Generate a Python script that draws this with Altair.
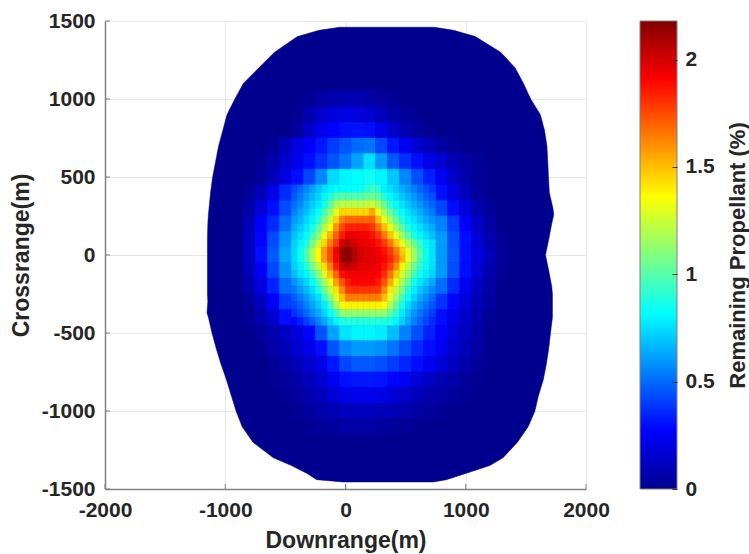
import altair as alt
import pandas as pd

# ---- data ----
# coarse 100 m cells (None = covered by the fine 50 m cells below)
x_centers = [-800, -700, -600, -500, -400, -300, -200, -100, 0, 100, 200,
             300, 400, 500, 600, 700, 800, 900, 1000, 1100, 1200, 1300]
y_centers = [1000, 900, 800, 700, 600, 500, 400, 300, 200, 100, 0,
             -100, -200, -300, -400, -500, -600, -700, -800, -900, -1000, -1100]
N = None
row_1000 = [0, 0, 0, 0, 0, 0.02, 0.05, 0.07, 0.08, 0.08, 0.06, 0.04, 0.02, 0, 0, 0, 0, 0, 0, 0, 0, 0]
row_900 = [0, 0, 0, 0, 0.02, 0.08, 0.14, 0.18, 0.2, 0.19, 0.16, 0.11, 0.06, 0.03, 0.01, 0, 0, 0, 0, 0, 0, 0]
row_800 = [0, 0, 0, 0, 0.04, 0.14, 0.22, 0.27, 0.3, 0.31, 0.3, 0.22, 0.14, 0.08, 0.04, 0.01, 0, 0, 0, 0, 0, 0]
row_700 = [0, 0, 0.02, 0.1, 0.2, 0.26, 0.32, 0.4, 0.45, 0.5, 0.52, 0.42, 0.32, 0.24, 0.16, 0.1, 0.05, 0.02, 0, 0, 0, 0]
row_600 = [0, 0.02, 0.06, 0.15, 0.22, 0.3, 0.38, 0.45, 0.52, 0.62, 0.75, 0.6, 0.46, 0.37, 0.3, 0.22, 0.16, 0.1, 0.05, 0.02, 0, 0]
row_500 = [0, 0.03, 0.1, 0.2, 0.3, 0.42, 0.56, 0.74, 0.8, 0.82, 0.85, 0.8, 0.7, 0.56, 0.44, 0.34, 0.24, 0.14, 0.07, 0.03, 0, 0]
row_400 = [0.03, 0.1, 0.22, 0.36, N, N, N, N, N, N, N, N, N, N, N, N, 0.3, 0.2, 0.11, 0.04, 0, 0]
row_300 = [0.06, 0.18, 0.3, 0.43, N, N, N, N, N, N, N, N, N, N, N, N, 0.42, 0.3, 0.18, 0.08, 0.03, 0]
row_200 = [0.1, 0.27, 0.36, 0.5, N, N, N, N, N, N, N, N, N, N, N, N, 0.55, 0.4, 0.26, 0.14, 0.05, 0]
row_100 = [0.12, 0.28, 0.43, 0.58, N, N, N, N, N, N, N, N, N, N, N, N, 0.6, 0.44, 0.3, 0.18, 0.08, 0.02]
row_0 = [0.12, 0.3, 0.46, 0.62, N, N, N, N, N, N, N, N, N, N, N, N, 0.6, 0.45, 0.3, 0.2, 0.1, 0.03]
row_m100 = [0.1, 0.26, 0.42, 0.58, N, N, N, N, N, N, N, N, N, N, N, N, 0.6, 0.44, 0.3, 0.18, 0.08, 0.02]
row_m200 = [0.07, 0.2, 0.34, 0.5, N, N, N, N, N, N, N, N, N, N, N, N, 0.5, 0.36, 0.24, 0.13, 0.05, 0]
row_m300 = [0.04, 0.12, 0.26, 0.4, N, N, N, N, N, N, N, N, N, N, N, N, 0.38, 0.28, 0.18, 0.1, 0.04, 0]
row_m400 = [0.02, 0.07, 0.16, 0.3, N, N, N, N, N, N, N, N, N, N, N, N, 0.3, 0.22, 0.14, 0.08, 0.02, 0]
row_m500 = [0, 0.03, 0.07, 0.12, 0.18, 0.28, 0.45, 0.62, 0.76, 0.8, 0.8, 0.78, 0.68, 0.55, 0.44, 0.34, 0.26, 0.18, 0.12, 0.06, 0, 0]
row_m600 = [0, 0.02, 0.05, 0.1, 0.16, 0.22, 0.3, 0.45, 0.56, 0.6, 0.6, 0.58, 0.52, 0.44, 0.36, 0.3, 0.24, 0.16, 0.1, 0.05, 0, 0]
row_m700 = [0, 0, 0.02, 0.05, 0.1, 0.15, 0.22, 0.32, 0.42, 0.46, 0.46, 0.44, 0.4, 0.35, 0.3, 0.24, 0.18, 0.12, 0.07, 0.03, 0, 0]
row_m800 = [0, 0, 0.01, 0.03, 0.06, 0.1, 0.16, 0.24, 0.3, 0.32, 0.32, 0.31, 0.28, 0.24, 0.18, 0.13, 0.09, 0.06, 0.03, 0.01, 0, 0]
row_m900 = [0, 0, 0, 0.02, 0.04, 0.07, 0.11, 0.17, 0.21, 0.23, 0.23, 0.21, 0.18, 0.14, 0.1, 0.07, 0.05, 0.03, 0.02, 0, 0, 0]
row_m1000 = [0, 0, 0, 0, 0.02, 0.04, 0.06, 0.09, 0.11, 0.12, 0.12, 0.11, 0.09, 0.07, 0.05, 0.03, 0.02, 0, 0, 0, 0, 0]
row_m1100 = [0, 0, 0, 0, 0, 0.02, 0.03, 0.04, 0.05, 0.05, 0.05, 0.04, 0.03, 0.02, 0, 0, 0, 0, 0, 0, 0, 0]

value_rows = [row_1000, row_900, row_800, row_700, row_600, row_500, row_400,
              row_300, row_200, row_100, row_0, row_m100, row_m200, row_m300,
              row_m400, row_m500, row_m600, row_m700, row_m800, row_m900,
              row_m1000, row_m1100]

# fine 50 m cells over the core
fine_x = [-425, -375, -325, -275, -225, -175, -125, -75, -25, 25, 75, 125,
          175, 225, 275, 325, 375, 425, 475, 525, 575, 625, 675, 725]
fine_y = [425, 375, 325, 275, 225, 175, 125, 75, 25, -25, -75, -125, -175,
          -225, -275, -325, -375, -425]
f_425 = [0.43, 0.49, 0.55, 0.62, 0.69, 0.75, 0.79, 0.82, 0.82, 0.82, 0.82, 0.83, 0.88, 0.95, 0.9, 0.79, 0.75, 0.71, 0.65, 0.6, 0.54, 0.49, 0.44, 0.39]
f_375 = [0.46, 0.53, 0.6, 0.66, 0.73, 0.8, 0.89, 0.97, 0.99, 0.99, 0.99, 0.99, 1.02, 1.05, 1.0, 0.89, 0.81, 0.76, 0.7, 0.65, 0.59, 0.54, 0.48, 0.44]
f_325 = [0.51, 0.57, 0.64, 0.71, 0.77, 0.85, 1.01, 1.17, 1.21, 1.21, 1.21, 1.21, 1.21, 1.25, 1.17, 1.03, 0.9, 0.81, 0.76, 0.7, 0.64, 0.59, 0.53, 0.48]
f_275 = [0.55, 0.62, 0.68, 0.75, 0.82, 0.95, 1.12, 1.3, 1.45, 1.45, 1.45, 1.45, 1.45, 1.55, 1.33, 1.17, 1.03, 0.9, 0.81, 0.75, 0.7, 0.64, 0.58, 0.53]
f_225 = [0.6, 0.66, 0.73, 0.8, 0.89, 1.06, 1.24, 1.45, 1.64, 1.69, 1.69, 1.69, 1.69, 1.7, 1.51, 1.32, 1.17, 1.02, 0.89, 0.8, 0.75, 0.69, 0.64, 0.58]
f_175 = [0.64, 0.71, 0.77, 0.85, 1.0, 1.18, 1.36, 1.59, 1.75, 1.84, 1.84, 1.84, 1.84, 1.79, 1.66, 1.5, 1.31, 1.16, 1.01, 0.88, 0.8, 0.75, 0.69, 0.64]
f_125 = [0.69, 0.75, 0.81, 0.94, 1.11, 1.31, 1.52, 1.7, 1.85, 1.95, 1.95, 1.92, 1.92, 1.87, 1.79, 1.65, 1.49, 1.31, 1.15, 1.0, 0.88, 0.8, 0.74, 0.68]
f_75 = [0.72, 0.79, 0.88, 1.06, 1.23, 1.44, 1.64, 1.79, 2.0, 2.05, 2.0, 1.95, 1.94, 1.92, 1.87, 1.78, 1.65, 1.48, 1.31, 1.17, 1.03, 0.92, 0.81, 0.75]
f_25 = [0.74, 0.83, 0.97, 1.17, 1.37, 1.58, 1.74, 1.92, 2.12, 2.16, 2.07, 2.0, 1.97, 1.96, 1.92, 1.87, 1.78, 1.64, 1.47, 1.3, 1.15, 0.98, 0.84, 0.76]
f_m25 = [0.74, 0.83, 0.97, 1.17, 1.35, 1.58, 1.74, 1.92, 2.12, 2.16, 2.07, 2.0, 1.97, 1.96, 1.95, 1.91, 1.83, 1.71, 1.53, 1.31, 1.15, 0.98, 0.84, 0.76]
f_m75 = [0.72, 0.79, 0.88, 1.06, 1.22, 1.43, 1.63, 1.85, 2.0, 2.05, 2.0, 1.96, 1.95, 1.95, 1.93, 1.87, 1.77, 1.6, 1.38, 1.21, 1.05, 0.91, 0.81, 0.75]
f_m125 = [0.68, 0.75, 0.8, 0.93, 1.1, 1.28, 1.5, 1.69, 1.88, 1.93, 1.93, 1.93, 1.93, 1.92, 1.9, 1.81, 1.66, 1.47, 1.27, 1.12, 0.97, 0.84, 0.78, 0.72]
f_m175 = [0.59, 0.66, 0.73, 0.82, 0.97, 1.16, 1.34, 1.57, 1.73, 1.85, 1.9, 1.9, 1.9, 1.9, 1.85, 1.73, 1.55, 1.33, 1.18, 1.02, 0.85, 0.77, 0.7, 0.63]
f_m225 = [0.53, 0.6, 0.67, 0.75, 0.86, 1.04, 1.22, 1.42, 1.62, 1.78, 1.8, 1.8, 1.8, 1.8, 1.78, 1.62, 1.41, 1.23, 1.09, 0.9, 0.79, 0.7, 0.63, 0.56]
f_m275 = [0.47, 0.53, 0.6, 0.68, 0.75, 0.9, 1.1, 1.29, 1.49, 1.64, 1.64, 1.64, 1.64, 1.64, 1.64, 1.5, 1.3, 1.14, 0.97, 0.82, 0.72, 0.64, 0.57, 0.5]
f_m325 = [0.42, 0.48, 0.55, 0.62, 0.7, 0.78, 0.94, 1.16, 1.33, 1.39, 1.39, 1.39, 1.39, 1.39, 1.39, 1.35, 1.2, 1.02, 0.86, 0.74, 0.65, 0.58, 0.51, 0.45]
f_m375 = [0.38, 0.43, 0.5, 0.57, 0.64, 0.72, 0.82, 0.95, 1.13, 1.13, 1.13, 1.13, 1.13, 1.13, 1.13, 1.13, 1.02, 0.92, 0.78, 0.68, 0.59, 0.52, 0.46, 0.4]
f_m425 = [0.28, 0.33, 0.4, 0.47, 0.55, 0.63, 0.72, 0.8, 0.88, 0.89, 0.89, 0.89, 0.89, 0.89, 0.89, 0.89, 0.86, 0.8, 0.72, 0.63, 0.55, 0.48, 0.42, 0.36]

fine_rows = [f_425, f_375, f_325, f_275, f_225, f_175, f_125, f_75, f_25,
             f_m25, f_m75, f_m125, f_m175, f_m225, f_m275, f_m325, f_m375, f_m425]

# outline of the covered region: crossrange and its downrange limits
edge_y = [1460, 1440, 1400, 1300, 1200, 1100, 1000, 900, 800, 700, 600, 500,
          400, 300, 260, 200, 100, 0, -100, -200, -250, -300, -370, -400,
          -500, -600, -700, -800, -900, -1000, -1100, -1200, -1300, -1350,
          -1400, -1440, -1455]
edge_left = [-50, -220, -400, -590, -720, -850, -920, -985, -1020, -1055,
             -1080, -1105, -1122, -1135, -1140, -1145, -1148, -1148, -1148,
             -1148, -1148, -1145, -1152, -1140, -1110, -1075, -1035, -990,
             -950, -910, -860, -770, -600, -450, -320, -240, -20]
edge_right = [740, 900, 1080, 1290, 1410, 1480, 1540, 1620, 1655, 1675,
              1682, 1688, 1695, 1725, 1732, 1715, 1690, 1663, 1690, 1715,
              1721, 1721, 1721, 1721, 1705, 1690, 1670, 1645, 1605, 1575,
              1520, 1430, 1310, 1200, 1000, 840, 730]

x_ticks = [-2000, -1000, 0, 1000, 2000]
y_ticks = [-1500, -1000, -500, 0, 500, 1000, 1500]
cbar_ticks = [0, 0.5, 1, 1.5, 2]
v_min = 0
v_max = 2.18

jet = ["#00008F", "#0000FF", "#0080FF", "#00FFFF", "#80FF80",
       "#FFFF00", "#FF8000", "#FF0000", "#800000"]


# ---- tables ----
def cell_table(xs, ys, rows, half):
    df = pd.DataFrame(
        [(x, y, v) for y, row in zip(ys, rows) for x, v in zip(xs, row)],
        columns=["x", "y", "v"],
    ).dropna()
    df = df[df["v"] > 0].copy()
    df["x0"] = df["x"] - half
    df["x1"] = df["x"] + half
    df["y0"] = df["y"] - half
    df["y1"] = df["y"] + half
    return df


coarse = cell_table(x_centers, y_centers, value_rows, 50)
fine = cell_table(fine_x, fine_y, fine_rows, 25)

edge = pd.DataFrame({"cy": edge_y, "xl": edge_left, "xr": edge_right})
xt = pd.DataFrame({"t": x_ticks})
yt = pd.DataFrame({"t": y_ticks})
cbar_df = pd.DataFrame({"lo": [v_min], "hi": [v_max]})

FONT = "Liberation Sans"
TXT = "#262626"
LABEL_SIZE = 21
TITLE_SIZE = 23

xscale = alt.Scale(domain=[-2000, 2000], nice=False)
yscale = alt.Scale(domain=[-1500, 1500], nice=False)
cscale = alt.Scale(domain=[v_min, v_max], range=jet, interpolate="rgb",
                   nice=False, clamp=True)
cbar_scale = alt.Scale(domain=[v_min, v_max], nice=False)

xaxis = alt.Axis(values=x_ticks, title="Downrange(m)", labelPadding=10,
                 titlePadding=9, labelExpr="'' + datum.value",
                 labelFlush=False, zindex=0)
yaxis = alt.Axis(values=y_ticks, title="Crossrange(m)", labelPadding=10,
                 titlePadding=8, labelExpr="'' + datum.value",
                 labelFlush=False, zindex=0)

region = alt.Chart(edge).mark_area(
    orient="horizontal", fill="#00008F", stroke="#00008F", strokeWidth=0.5
).encode(
    y=alt.Y("cy:Q", scale=yscale, axis=yaxis),
    x=alt.X("xl:Q", scale=xscale, axis=xaxis),
    x2="xr:Q",
)


def heat_layer(df):
    return alt.Chart(df).mark_rect(strokeWidth=0.6).encode(
        x=alt.X("x0:Q", scale=xscale),
        x2="x1:Q",
        y=alt.Y("y0:Q", scale=yscale),
        y2="y1:Q",
        color=alt.Color("v:Q", scale=cscale, legend=None),
        stroke=alt.Stroke("v:Q", scale=cscale, legend=None),
    )


xtick_marks = alt.Chart(xt).mark_rule(color="#808080", strokeWidth=1).encode(
    x=alt.X("t:Q", scale=xscale), y=alt.value(468), y2=alt.value(463)
)
ytick_marks = alt.Chart(yt).mark_rule(color="#808080", strokeWidth=1).encode(
    y=alt.Y("t:Q", scale=yscale), x=alt.value(0), x2=alt.value(5)
)

main = alt.layer(region, heat_layer(coarse), heat_layer(fine),
                 xtick_marks, ytick_marks)

n = len(jet)
jet_gradient = alt.LinearGradient(
    gradient="linear",
    stops=[alt.GradientStop(color=c, offset=i / (n - 1)) for i, c in enumerate(jet)],
    x1=0, x2=0, y1=1, y2=0,
)

cbar = alt.Chart(cbar_df).mark_rect(
    fill=jet_gradient, stroke="#808080", strokeWidth=1
).encode(
    y=alt.Y("lo:Q", scale=cbar_scale, axis=alt.Axis(
        orient="right", offset=86, values=cbar_ticks, format="~g",
        ticks=True, tickSize=5, tickColor="#333333", tickWidth=1,
        labelPadding=8, labelFlush=False, domain=False, grid=False, zindex=1,
        title="Remaining Propellant (%)", titleAngle=270, titleFontSize=22,
        titleX=65, titleY=234, titleAlign="center", titleBaseline="middle",
    )),
    y2="hi:Q",
    x=alt.value(535),
    x2=alt.value(572),
)

chart = alt.layer(main, cbar).resolve_scale(y="independent").properties(
    width=481, height=468,
    background="white",
    autosize=alt.AutoSizeParams(type="none"),
    padding={"left": 105, "top": 21, "right": 163, "bottom": 65},
).configure_view(stroke=None).configure_axis(
    labelFont=FONT, labelFontSize=LABEL_SIZE, labelFontWeight="bold", labelColor=TXT,
    titleFont=FONT, titleFontSize=TITLE_SIZE, titleFontWeight="bold", titleColor=TXT,
    grid=True, gridColor="#e6e6e6", gridWidth=1,
    domainColor="#808080", domainWidth=1.5, ticks=False,
)

chart.save("out.html", embed_options={"renderer": "svg", "actions": False})
